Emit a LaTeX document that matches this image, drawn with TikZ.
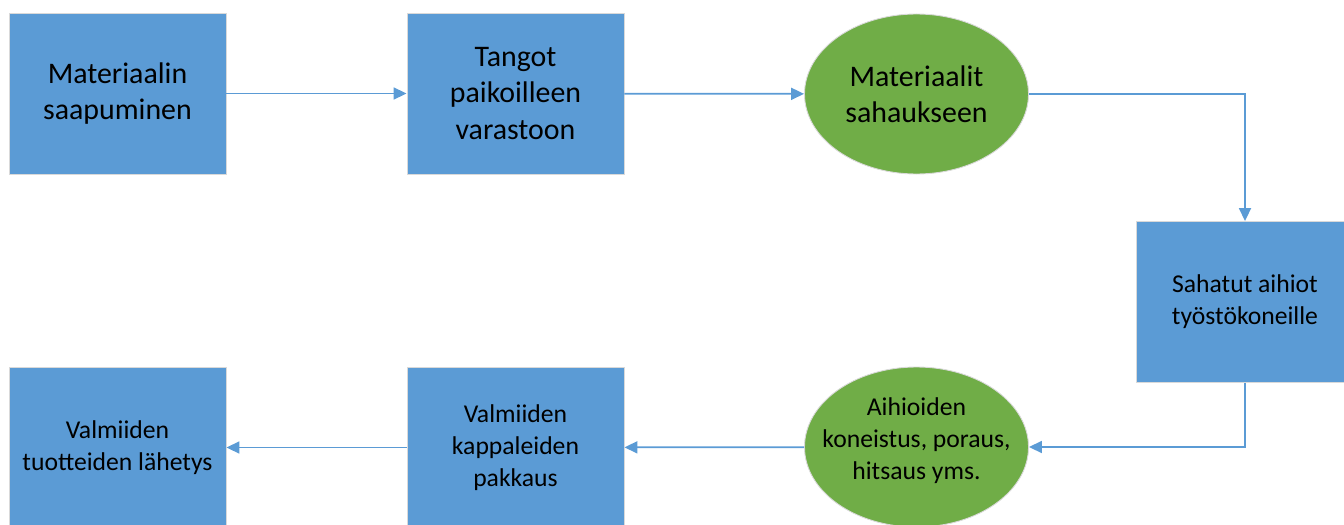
\documentclass[tikz,border=0pt]{standalone}
\usepackage{fontspec}
\setmainfont{Carlito}
\usetikzlibrary{arrows.meta,shapes.geometric}

\definecolor{boxblue}{HTML}{5B9BD5}
\definecolor{ovalgreen}{HTML}{70AD47}

\tikzset{
  stepbox/.style={rectangle,fill=boxblue,draw=black!15,line width=0.5pt,
    minimum width=4.34cm,minimum height=3.22cm,align=center,inner sep=0pt},
  stepoval/.style={ellipse,fill=ovalgreen,draw=black!15,line width=0.5pt,
    minimum width=4.48cm,minimum height=3.2cm,align=center,inner sep=0pt},
  bigtext/.style={font=\fontsize{17}{20.7}\selectfont},
  smalltext/.style={font=\fontsize{14.6}{18.2}\selectfont},
  flow/.style={draw=boxblue,line width=1pt,-{Triangle[length=0.26cm,width=0.24cm]}}
}

\begin{document}
\begin{tikzpicture}
  \useasboundingbox (0,0) rectangle (26.88,-10.48);
  % upper row
  \node[stepbox,bigtext] (saapuminen) at (2.35,-1.87) {Materiaalin\\saapuminen};
  \node[stepbox,bigtext] (varasto) at (10.31,-1.87) {Tangot\\paikoilleen\\varastoon};
  \node[stepoval,bigtext] (sahaus) at (18.33,-1.88) {Materiaalit\\sahaukseen};
  \node[stepbox,smalltext] (aihiot) at (24.9,-6.04) {Sahatut aihiot\\työstökoneille};
  % lower row
  \node[stepoval,label={[smalltext,align=center,yshift=0.13cm]center:Aihioiden\\koneistus, poraus,\\hitsaus yms.}] (koneistus) at (18.33,-8.94) {};
  \node[stepbox,smalltext] (pakkaus) at (10.31,-8.95) {Valmiiden\\kappaleiden\\pakkaus};
  \node[stepbox,smalltext] (lahetys) at (2.35,-8.95) {Valmiiden\\tuotteiden lähetys};

  \draw[flow] (saapuminen) -- (varasto);
  \draw[flow] (varasto) -- (sahaus);
  \draw[flow] (sahaus.east) -| (aihiot.north);
  \draw[flow] (aihiot.south) |- (koneistus.east);
  \draw[flow] (koneistus) -- (pakkaus);
  \draw[flow] (pakkaus) -- (lahetys);
\end{tikzpicture}
\end{document}
